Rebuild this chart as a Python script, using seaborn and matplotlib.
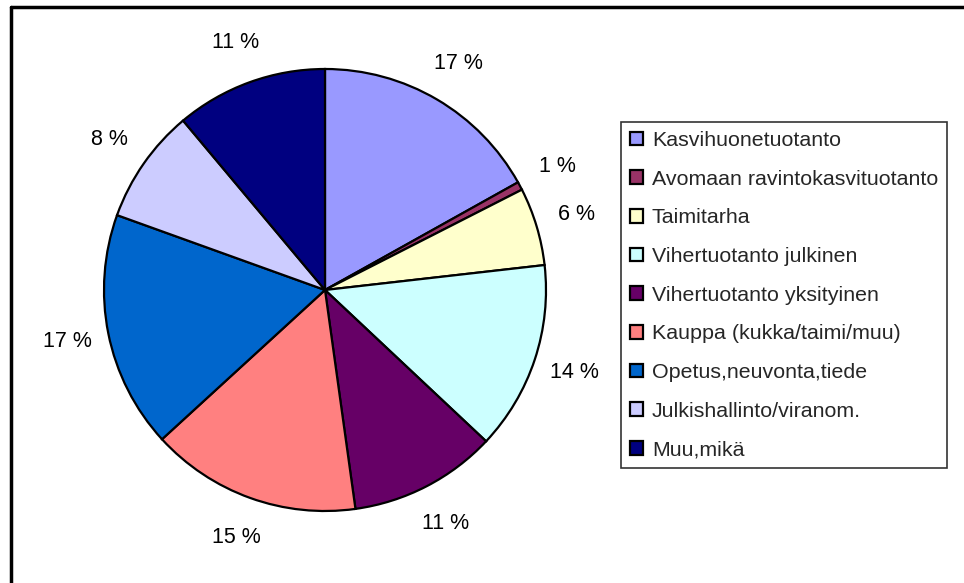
import matplotlib
matplotlib.use("Agg")
import matplotlib.pyplot as plt
import seaborn as sns
from matplotlib.lines import Line2D

# osuudet (%) myötäpäivään klo 12:sta alkaen
sektorit = ['Kasvihuonetuotanto', 'Avomaan ravintokasvituotanto', 'Taimitarha',
            'Vihertuotanto julkinen', 'Vihertuotanto yksityinen',
            'Kauppa (kukka/taimi/muu)', 'Opetus,neuvonta,tiede',
            'Julkishallinto/viranom.', 'Muu,mikä']
osuudet = [16.9, 0.6, 5.7, 13.8, 10.8, 15.4, 17.3, 8.4, 11.1]
varit = ['#9999FF', '#993366', '#FFFFCC', '#CCFFFF', '#660066',
         '#FF8080', '#0066CC', '#CCCCFF', '#000080']

sns.set_theme(style='white')
plt.rcParams['font.family'] = ['Liberation Sans', 'DejaVu Sans']

W, H = 964, 583
fig = plt.figure(figsize=(W / 100, H / 100), dpi=100)
fig.patch.set_facecolor('white')

cx, cy, r = 325, 290, 221
ax = fig.add_axes([(cx - r) / W, (H - cy - r) / H, 2 * r / W, 2 * r / H])
wedges, texts, autotexts = ax.pie(
    osuudet, colors=sns.color_palette(varit), startangle=90, counterclock=False,
    autopct=lambda p: f'{p:.0f} %', pctdistance=1.19,
    wedgeprops=dict(edgecolor='black', linewidth=1.6),
    textprops=dict(fontsize=15.5, color='black'))
ax.set_xlim(-1, 1)
ax.set_ylim(-1, 1)
ax.set_aspect('equal')
ax.axis('off')

leg = fig.legend(wedges, sektorit, loc='upper left',
                 bbox_to_anchor=(621 / W, 1 - 122 / H), fontsize=15.4,
                 frameon=True, fancybox=False, edgecolor='black',
                 handlelength=0.6, handleheight=0.6, handletextpad=0.42,
                 labelspacing=0.92, borderpad=0.42, borderaxespad=0)
leg.get_frame().set_linewidth(1.2)

# kehys vain ylä- ja vasemmassa reunassa (kuva rajattu)
fig.add_artist(Line2D([11 / W, 1], [1 - 7 / H, 1 - 7 / H], color='black', lw=2.5))
fig.add_artist(Line2D([11 / W, 11 / W], [0, 1 - 7 / H], color='black', lw=2.5))

fig.savefig('out.png', dpi=100)
